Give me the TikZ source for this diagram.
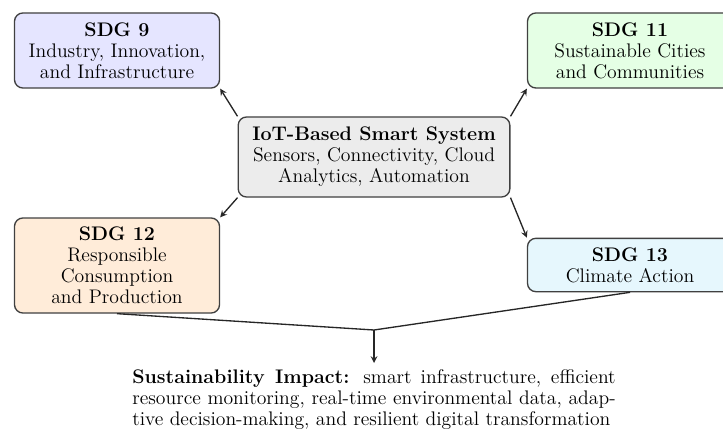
\documentclass[tikz,border=0pt]{standalone}
\usepackage{amsmath,amssymb}
\usepackage{xcolor}
\usepackage{tikz}
\usetikzlibrary{positioning,calc,shapes}

\begin{document}
\begin{tikzpicture}[x=0.6pt,y=-0.6pt,>=stealth,
  every node/.style={font=\fontsize{11.8}{12.6}\selectfont},
  sdgbox/.style={draw=black!75,thick,rounded corners=5pt,align=center,inner sep=2pt,minimum width=123pt},
  hub/.style={draw=black!75,thick,rounded corners=5pt,align=center,inner sep=2pt,fill=gray!15,minimum width=163pt,minimum height=48pt},
  link/.style={->,thick,black!85}]
\useasboundingbox (0,0) rectangle (723,433);
\node[hub] (iot) at (374,157) {\textbf{IoT-Based Smart System}\\Sensors, Connectivity, Cloud\\Analytics, Automation};
\node[sdgbox,fill=blue!10,minimum height=45pt] (sdg9) at (117,50.5) {\textbf{SDG 9}\\Industry, Innovation,\\and Infrastructure};
\node[sdgbox,fill=green!10,minimum height=45pt] (sdg11) at (630,50.5) {\textbf{SDG 11}\\Sustainable Cities\\and Communities};
\node[sdgbox,fill=orange!15,minimum height=57pt] (sdg12) at (117,265.5) {\textbf{SDG 12}\\Responsible\\Consumption\\and Production};
\node[sdgbox,fill=cyan!10,minimum height=32pt] (sdg13) at (630,265) {\textbf{SDG 13}\\Climate Action};
\draw[link] (iot.north west) -- (sdg9.south east);
\draw[link] (iot.north east) -- (sdg11.south west);
\draw[link] (iot.south west) -- (sdg12.north east);
\draw[link] (iot.south east) -- (sdg13.north west);
\coordinate (merge) at (374,330);
\node[text width=290pt,align=justify,anchor=north,inner sep=4pt] (impact) at (374,363) {\parfillskip=0pt \textbf{Sustainability Impact:} smart infrastructure, efficient\linebreak resource monitoring, real-time environmental data, adap-\linebreak tive decision-making, and resilient digital transformation};
\draw[thick,black!85] (sdg12.south) -- (merge) -- (sdg13.south);
\draw[link] (merge) -- (impact.north);
\end{tikzpicture}
\end{document}
